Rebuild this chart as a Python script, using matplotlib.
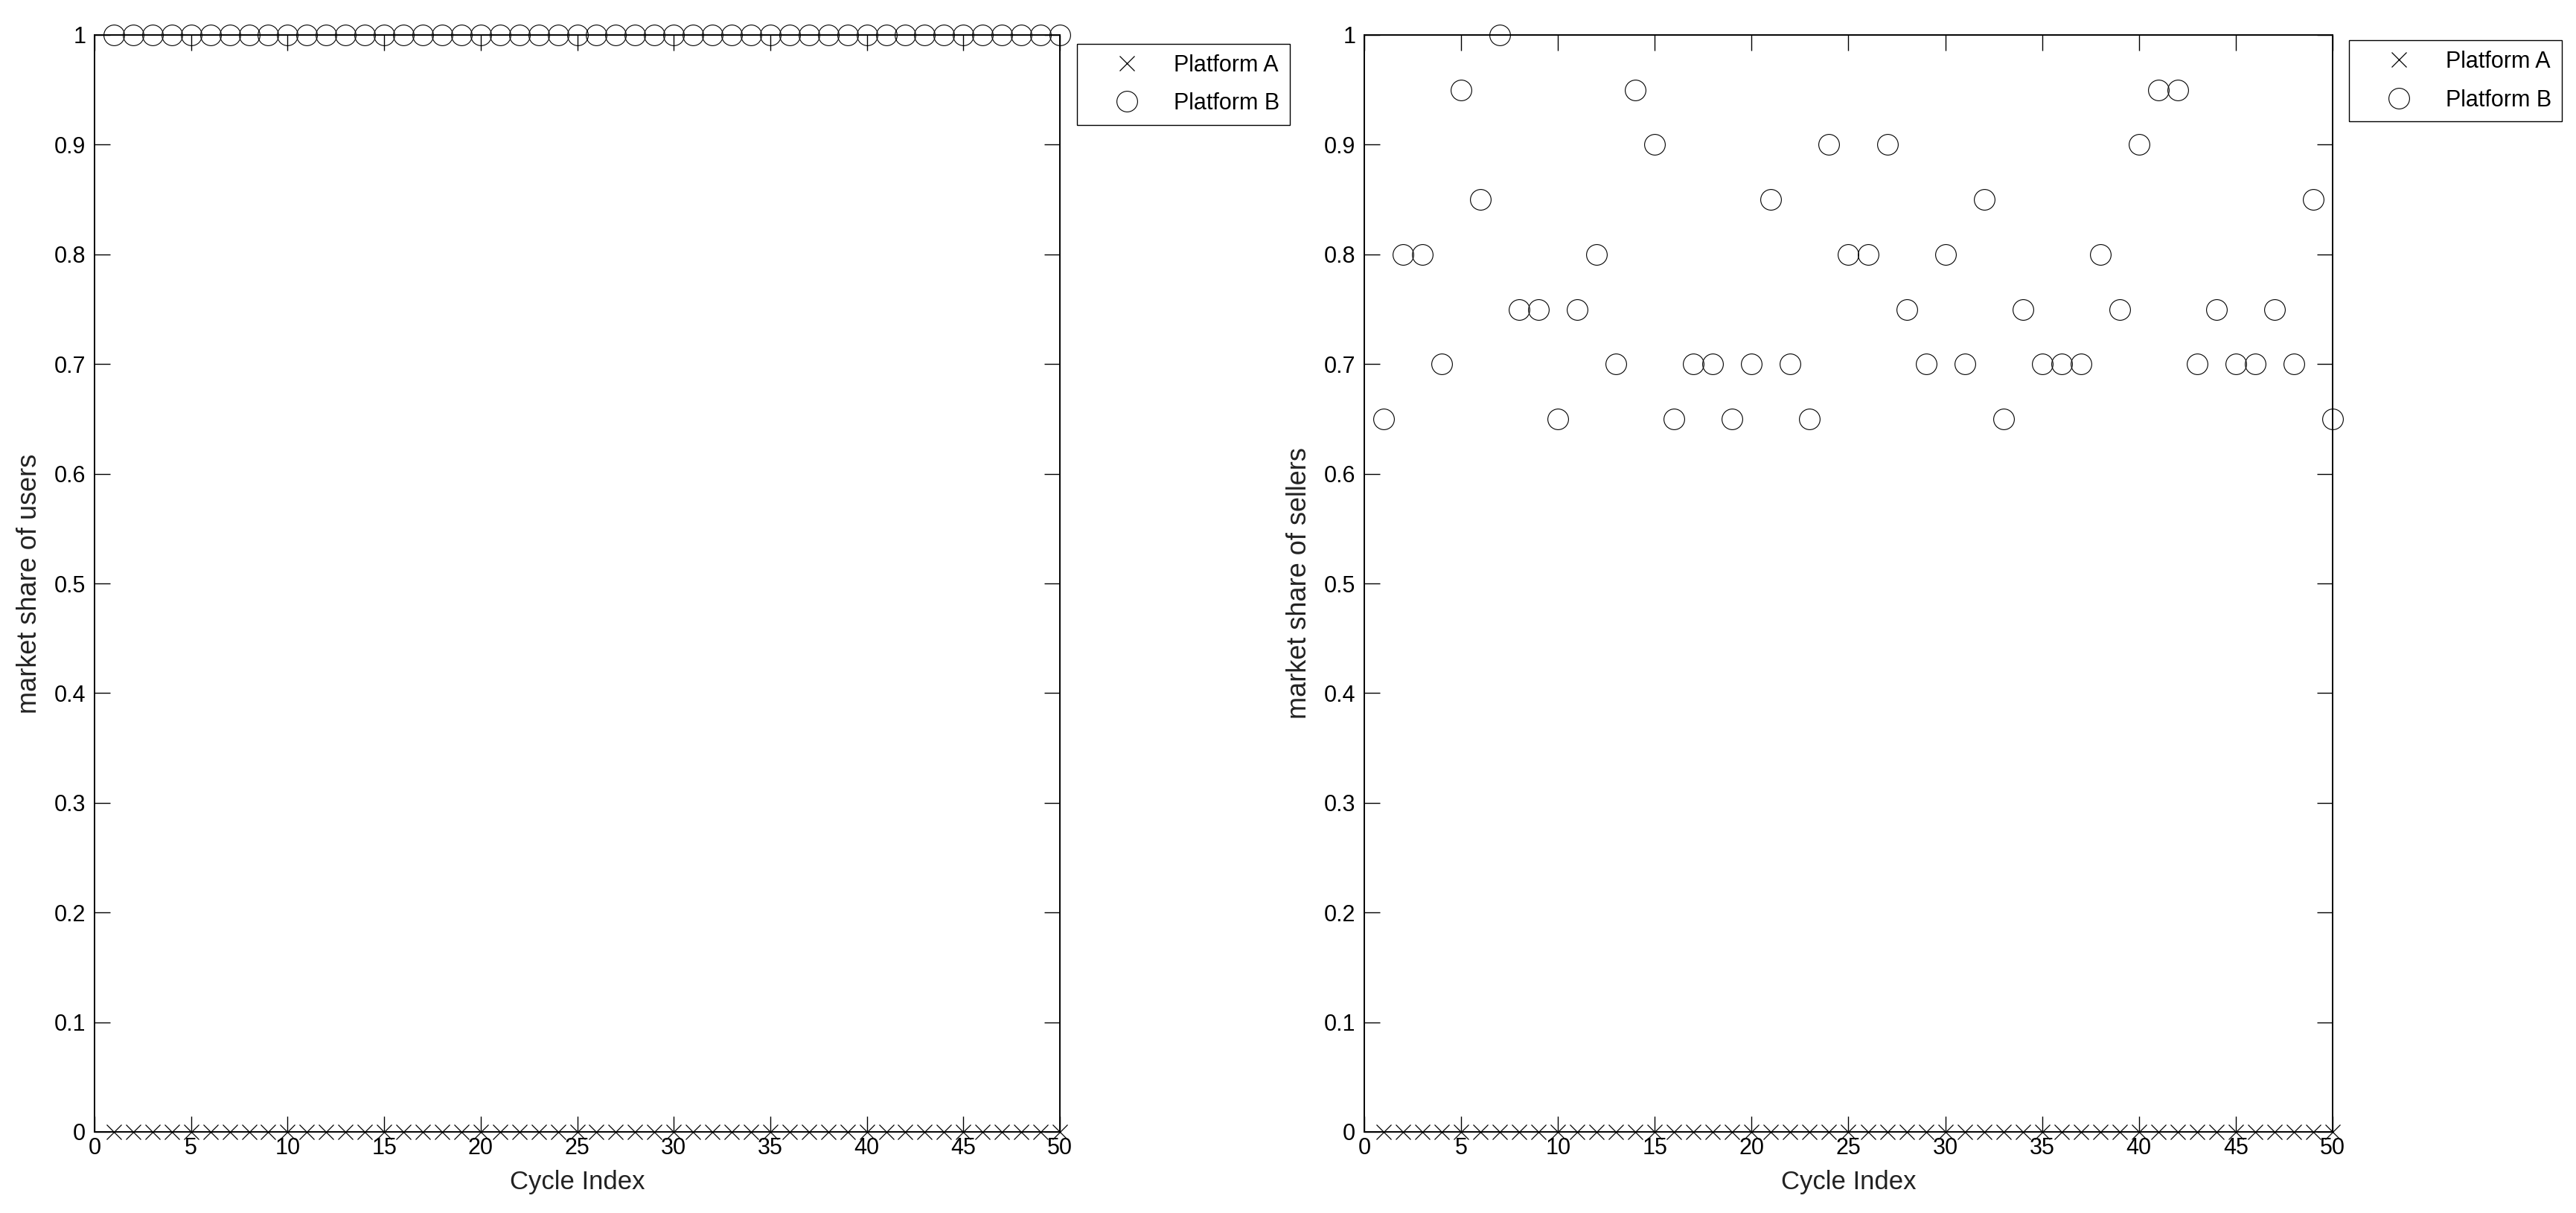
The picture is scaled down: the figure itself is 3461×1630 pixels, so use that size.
import matplotlib
matplotlib.use("Agg")
import matplotlib.pyplot as plt
import numpy as np

plt.rcParams['font.family'] = ['Liberation Sans', 'DejaVu Sans']

cycles = list(range(1, 51))
users_A = [0] * 50
users_B = [1] * 50
sellers_A = [0] * 50
sellers_B = [0.65, 0.8, 0.8, 0.7, 0.95, 0.85, 1.0, 0.75, 0.75, 0.65,
             0.75, 0.8, 0.7, 0.95, 0.9, 0.65, 0.7, 0.7, 0.65, 0.7,
             0.85, 0.7, 0.65, 0.9, 0.8, 0.8, 0.9, 0.75, 0.7, 0.8,
             0.7, 0.85, 0.65, 0.75, 0.7, 0.7, 0.7, 0.8, 0.75, 0.9,
             0.95, 0.95, 0.7, 0.75, 0.7, 0.7, 0.75, 0.7, 0.85, 0.65]
x_ticks = [0, 5, 10, 15, 20, 25, 30, 35, 40, 45, 50]
y_ticks = [0, 0.1, 0.2, 0.3, 0.4, 0.5, 0.6, 0.7, 0.8, 0.9, 1]
y_tick_labels = ['0', '0.1', '0.2', '0.3', '0.4', '0.5', '0.6', '0.7', '0.8', '0.9', '1']
series_labels = ['Platform A', 'Platform B']
y_labels = ['market share of users', 'market share of sellers']
x_label = 'Cycle Index'

W, H = 3462, 1630
fig = plt.figure(figsize=(W / 100, H / 100), dpi=100)

bottom = (H - 1521) / H
height = 1474 / H
ax_rects = [
    [127 / W, bottom, 1297 / W, height],
    [1833 / W, bottom, 1301 / W, height],
]
datasets = [(users_A, users_B), (sellers_A, sellers_B)]
legend_anchor = [(1.0178, 0.992), (1.0169, 0.995)]

FS = 22
for rect, (a, b), ylab, anc in zip(ax_rects, datasets, y_labels, legend_anchor):
    ax = fig.add_axes(rect)
    ax.plot(cycles, a, linestyle='none', marker='x', color='black',
            markersize=15, markeredgewidth=0.9, clip_on=False, label=series_labels[0])
    ax.plot(cycles, b, linestyle='none', marker='o', markerfacecolor='none',
            markeredgecolor='black', markersize=20, markeredgewidth=0.8,
            clip_on=False, label=series_labels[1])
    ax.set_xlim(0, 50)
    ax.set_ylim(0, 1)
    ax.set_xticks(x_ticks)
    ax.set_xticklabels([str(t) for t in x_ticks])
    ax.set_yticks(y_ticks)
    ax.set_yticklabels(y_tick_labels)
    ax.tick_params(direction='in', length=15, width=1.0, top=True, right=True,
                   labelsize=FS, colors='black')
    ax.tick_params(axis='x', pad=5)
    ax.tick_params(axis='y', pad=8.5)
    for s in ax.spines.values():
        s.set_linewidth(1.4)
        s.set_color('black')
    ax.set_xlabel(x_label, fontsize=25, labelpad=10, color='#222222')
    ax.set_ylabel(ylab, fontsize=26, labelpad=11, color='#222222')
    leg = ax.legend(loc='upper left', bbox_to_anchor=anc, borderaxespad=0,
                    fontsize=FS, frameon=True, fancybox=False, framealpha=1,
                    edgecolor='black', handlelength=3.5, handletextpad=0.3,
                    labelspacing=0.7, borderpad=0.45, markerscale=1.0)
    leg.get_frame().set_linewidth(1.0)

fig.savefig('out.png', dpi=100, facecolor='white')
